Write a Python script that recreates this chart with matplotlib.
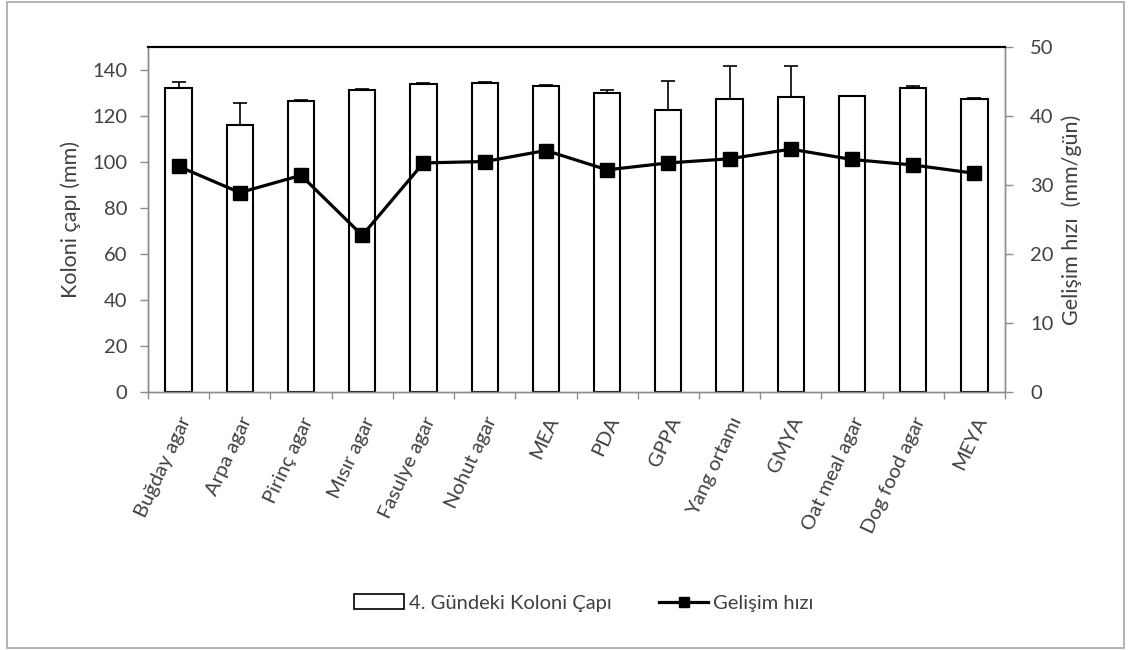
import matplotlib
matplotlib.use("Agg")
import matplotlib.pyplot as plt
from matplotlib.patches import Rectangle
from matplotlib.lines import Line2D
import numpy as np

plt.rcParams['font.family'] = ['Lato', 'DejaVu Sans']

media = ["Buğday agar", "Arpa agar", "Pirinç agar", "Mısır agar", "Fasulye agar",
         "Nohut agar", "MEA", "PDA", "GPPA", "Yang ortamı", "GMYA",
         "Oat meal agar", "Dog food agar", "MEYA"]
colony_diameter = [132.0, 116.2, 126.5, 131.3, 133.7, 134.5, 132.9,
                   129.8, 122.6, 127.4, 128.3, 128.8, 132.3, 127.4]
diameter_err = [2.6, 9.6, 0.5, 0.5, 0.8, 0.3, 0.7,
                1.6, 12.7, 14.5, 13.6, 0.0, 0.7, 0.4]
growth_rate = [32.7, 28.9, 31.4, 22.7, 33.2, 33.4, 35.0,
               32.2, 33.2, 33.8, 35.2, 33.7, 32.9, 31.7]

grey = "#8c8c8c"
text_col = "#404040"

fig = plt.figure(figsize=(11.31, 6.5), dpi=100)
fig.add_artist(Rectangle((7 / 1131, 2 / 650), 1117 / 1131, 646 / 650,
                         transform=fig.transFigure, fill=False,
                         edgecolor="#a6a6a6", linewidth=1.2))

ax = fig.add_axes([148 / 1131, 1 - 392 / 650, 857 / 1131, 345 / 650])
ax2 = ax.twinx()
ax.set_zorder(ax2.get_zorder() - 1)
ax.patch.set_visible(True)
ax2.patch.set_visible(False)

x = np.arange(len(media))
ax.bar(x, colony_diameter, width=0.43, color="white", edgecolor="black",
       linewidth=1.5, zorder=2)
ax.errorbar(x, colony_diameter, yerr=[np.zeros(len(x)), diameter_err],
            fmt="none", ecolor="black", elinewidth=1.2, capsize=5,
            capthick=1.2, zorder=3)

ax2.plot(x, growth_rate, color="black", linewidth=2.3, marker="s",
         markersize=9.5, zorder=4)

ax.set_xlim(-0.5, len(media) - 0.5)
ax.set_ylim(0, 150)
ax.set_yticks(np.arange(0, 141, 20))
ax2.set_ylim(0, 50)
ax2.set_yticks(np.arange(0, 51, 10))

ax.set_xticks(x)
ax.set_xticklabels(media, rotation=65, ha="right", rotation_mode="anchor",
                   fontsize=14.5, color=text_col)
ax.set_xticks(np.arange(-0.5, len(media), 1.0), minor=True)
ax.tick_params(axis="x", which="major", length=0, pad=16)
ax.tick_params(axis="x", which="minor", length=5, color=grey, width=1)
ax.tick_params(axis="y", length=6, color=grey, width=1, labelsize=14.5,
               labelcolor=text_col, pad=9)
ax2.tick_params(axis="y", length=6, color=grey, width=1, labelsize=14.5,
                labelcolor=text_col, pad=12)

for a in (ax, ax2):
    for side in ("left", "right", "bottom"):
        a.spines[side].set_color(grey)
        a.spines[side].set_linewidth(1)
    a.spines["top"].set_color("black")
    a.spines["top"].set_linewidth(1.5)

ax.set_ylabel("Koloni çapı (mm)", fontsize=15.5, color=text_col, labelpad=8)
ax2.set_ylabel("Gelişim hızı  (mm/gün)", fontsize=15.5, color=text_col,
               labelpad=6)

handles = [Rectangle((0, 0), 1, 1, facecolor="white", edgecolor="black",
                     linewidth=1.2),
           Line2D([], [], color="black", linewidth=2.3, marker="s",
                  markersize=7)]
fig.legend(handles, ["4. Gündeki Koloni Çapı", "Gelişim hızı"],
           loc="center", bbox_to_anchor=(584 / 1131, 1 - 603 / 650),
           ncol=2, frameon=False, fontsize=14.5, handlelength=2.45,
           handletextpad=0.25, columnspacing=2.35, labelcolor=text_col)

fig.savefig("out.png", dpi=100)
